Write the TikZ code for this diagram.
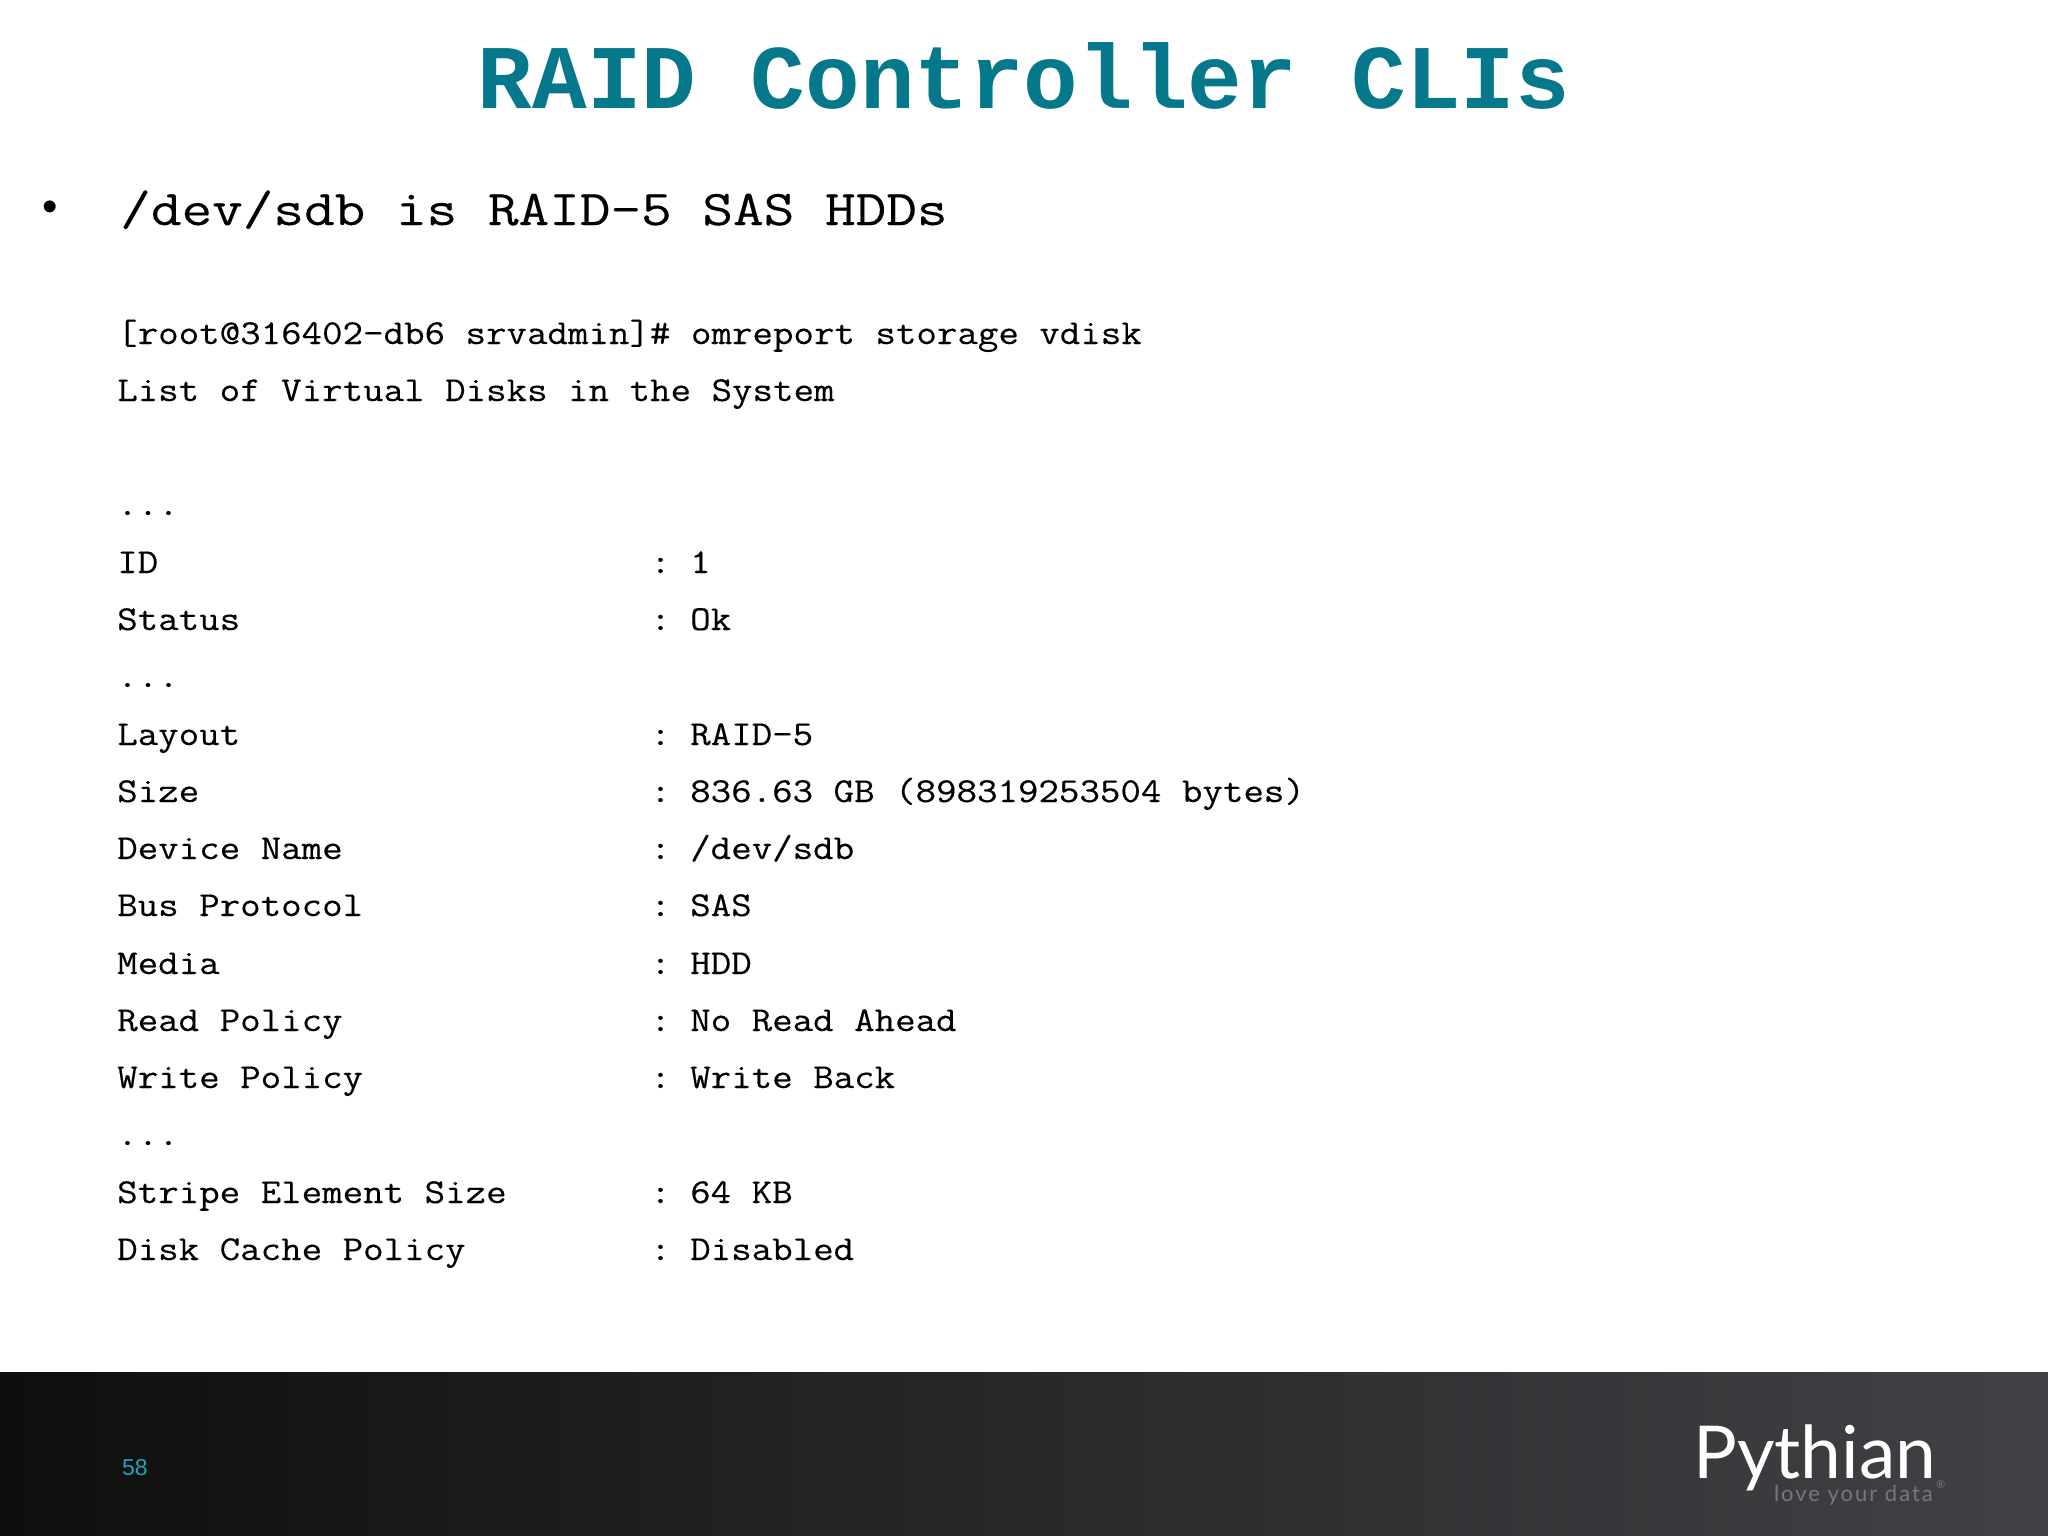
\documentclass[tikz,border=0pt]{standalone}
\usepackage{fontspec}
\setmainfont{Liberation Sans}
\newfontfamily\monob{Liberation Mono}
\newfontfamily\sansb{Lato}
\newfontfamily\lmt[FakeBold=0.25]{Latin Modern Mono}
\definecolor{teal1}{HTML}{05798B}
\definecolor{numc}{HTML}{1FA3B5}
\definecolor{barl}{HTML}{0E0E0F}
\definecolor{barr}{HTML}{434145}
\definecolor{tagc}{HTML}{77777A}
\tikzset{
 txtline/.style={anchor=base west,inner sep=0pt,font=\lmt\fontsize{35}{35}\selectfont,text=black,xscale=1.137,transform shape},
 headline/.style={anchor=base west,inner sep=0pt,font=\lmt\fontsize{50}{50}\selectfont,text=black,xscale=1.19,transform shape},
}
\begin{document}
\begin{tikzpicture}[x=1pt,y=-1pt]
\useasboundingbox (0,0) rectangle (2048,1536);
\shade[left color=barl,right color=barr] (0,1372) rectangle (2048,1536);
\node[anchor=base,inner sep=0pt,text=teal1,font=\monob\bfseries\fontsize{91}{91}\selectfont] (title) at (1024,109) {RAID Controller CLIs};
\node[anchor=base,inner sep=0pt,font=\fontsize{44}{44}\selectfont] (bullet) at (50,221) {•};
\node[headline] (h) at (120,225) {/dev/sdb is RAID-5 SAS HDDs};
\foreach \n/\yy/\a/\b in {
 a/344/{[root@316402-db6 srvadmin]\# omreport storage vdisk}/{},
 b/401/{List of Virtual Disks in the System}/{},
 c/515/{...}/{},
 d/573/{ID}/{1},
 e/630/{Status}/{Ok},
 f/687/{...}/{},
 g/745/{Layout}/{RAID-5},
 h2/802/{Size}/{836.63 GB (898319253504 bytes)},
 i/859/{Device Name}/{/dev/sdb},
 j/916/{Bus Protocol}/{SAS},
 k/974/{Media}/{HDD},
 l/1031/{Read Policy}/{No Read Ahead},
 m/1088/{Write Policy}/{Write Back},
 n/1145/{...}/{},
 o/1203/{Stripe Element Size}/{64 KB},
 p/1260/{Disk Cache Policy}/{Disabled}}{
 \node[txtline] (\n1) at (117,\yy) {\a};
 \if\relax\b\relax\else
  \node[txtline] (\n3) at (650,\yy) {:};
  \node[txtline] (\n2) at (690,\yy) {\b};
 \fi
}
\node[anchor=base west,inner sep=0pt,text=numc,font=\fontsize{23}{23}\selectfont] (num) at (122,1475) {58};
\node[anchor=base west,inner sep=0pt,text=white,font=\sansb\fontsize{73}{73}\selectfont] (logo) at (1693,1478) {Pythian};
\node[anchor=base east,inner sep=0pt,text=tagc,font=\sansb\fontsize{22}{22}\selectfont\addfontfeatures{LetterSpace=9}] (tag) at (1933,1501) {love your data};
\node[anchor=base west,inner sep=0pt,text=tagc,font=\sansb\fontsize{11}{11}\selectfont] (reg) at (1936,1488) {®};
\end{tikzpicture}
\end{document}
